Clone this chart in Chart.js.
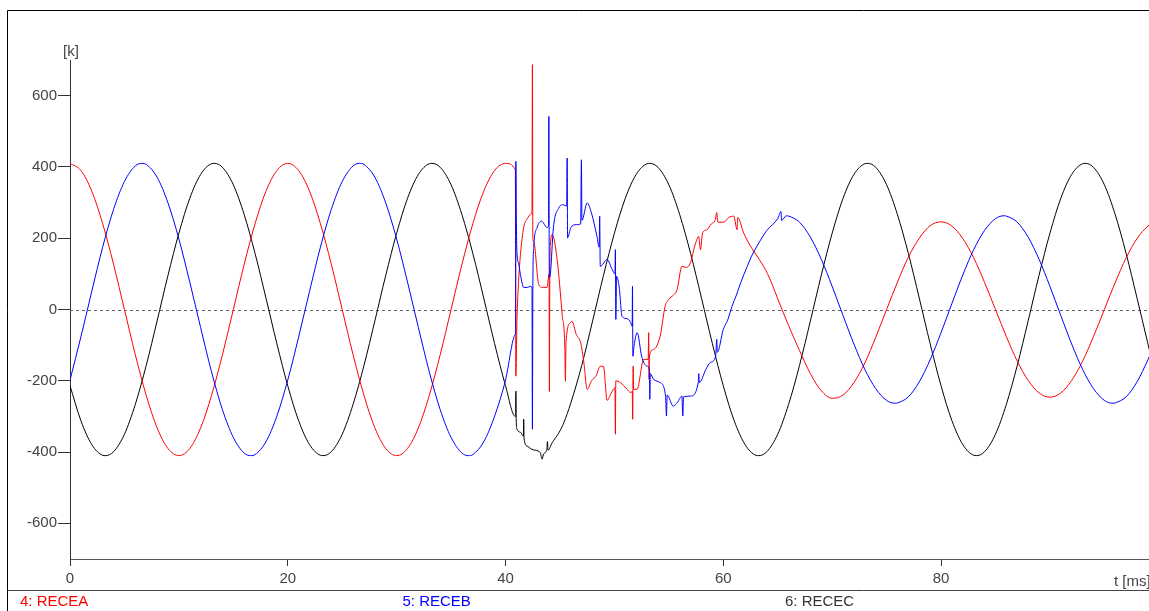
<!DOCTYPE html>
<html>
<head>
<meta charset="utf-8">
<script src="https://cdn.jsdelivr.net/npm/chart.js@4.4.1/dist/chart.umd.min.js"></script>
<style>
  body { margin: 0; background: #fff; }
  canvas { display: block; }
</style>
</head>
<body>
<canvas id="mychart" width="1149" height="611"></canvas>
<script>
// time in ms, values in k
const seriesNames = ['4: RECEA', '5: RECEB', '6: RECEC'];
const xTicks = [0, 20, 40, 60, 80];
const yTicks = [-600, -400, -200, 0, 200, 400, 600];

const redT = [0,1,2,3,4,5,6,7,8,9,10,11,12,13,14,15,16,17,18,19,20,21,22,23,24,25,26,27,28,29,30,31,32,33,34,35,36,37,38,39,40,
  40.9,40.95,41.05,41.2,41.37,41.67,42.0,42.29,42.43,42.47,
  42.51,42.59,43.05,43.4,43.82,44.0,44.03,44.07,44.12,44.28,
  44.74,45.2,45.45,45.5,45.56,45.96,46.1,46.5,46.9,47.2,
  47.5,47.9,48.3,48.71,49.0,49.33,49.7,50.05,50.09,50.13,
  50.55,51.17,51.5,51.64,51.68,51.72,51.76,52.08,52.69,53.1,
  53.15,53.18,53.22,53.6,54.2,54.66,54.98,55.4,55.76,56.2,
  56.6,56.98,57.4,57.74,57.9,58.1,58.5,58.9,59.27,59.4,
  59.5,60.04,60.5,60.96,61.27,61.32,61.87,62.49,63.1,63.9,
  64.5,65,
  66,67,68,69,70,71,72,73,74,75,76,77,78,79,80,81,82,83,84,85,86,87,88,89,90,91,92,93,94,95,96,97,98,99,99.3];
const redV = [410,390,332,241,127,0,-127,-241,-332,-390,-410,-390,-332,-241,-127,0,127,241,332,390,
  410,390,332,241,127,0,-127,-241,-332,-390,-410,-390,-332,-241,-127,0,127,241,332,390,410,
  392,-187,-33,79,154,230,255,266,280,687,
  200,190,70,62,62,100,-230,110,180,210,
  140,-14,-110,-201,-90,-37,-33,-70,-93,-150,
  -224,-200,-187,-159,-160,-255,-235,-220,-350,-200,
  -205,-224,-233,-230,-308,-159,-224,-224,-140,-140,
  -65,-196,-130,-112,-75,9,28,40,56,121,
  118,131,180,205,168,215,224,240,252,272,
  245,245,258,262,224,258,215,178,150,110,
  70,30,
  -45,-115,-180,-228,-249,-240,-205,-150,-78,0,77,147,200,235,246,234,199,145,76,0,
  -76,-145,-199,-234,-246,-234,-199,-145,-76,0,76,145,199,234,240];

const blueT = [0,1,2,3,4,5,6,6.6,7,8,9,10,11,12,13,14,15,16,16.6,17,18,19,
  20,21,22,23,24,25,26,26.6,27,28,29,30,31,32,33,34,35,36,36.6,37,38,39,40,
  40.9,40.93,40.95,40.99,41.05,41.2,41.37,41.67,42.0,42.29,
  42.43,42.47,42.51,42.59,42.9,43.3,43.82,43.95,43.98,44.02,
  44.12,44.4,44.9,45.3,45.62,45.66,45.7,46.0,46.5,46.9,
  46.97,47.02,47.5,47.9,48.4,48.6,48.65,48.7,49.33,49.8,
  50.05,50.09,50.13,50.2,50.45,50.7,51.2,51.5,51.63,51.66,
  51.7,51.8,52.1,52.5,53.0,53.22,53.25,53.3,53.6,54.2,
  54.7,54.78,54.85,55.4,55.8,56.2,56.28,56.35,57.0,57.7,
  57.75,57.8,58.4,58.8,59.3,59.4,59.45,60.0,60.4,60.8,
  61.2,61.6,62.2,62.6,63.1,64,65,65.3,65.35,65.8,
  66,67,68,69,70,71,72,73,74,75,75.8,76,77,78,79,80,81,82,83,84,85,85.8,
  86,87,88,89,90,91,92,93,94,95,95.8,96,97,98,99,99.3];
const blueV = [-198,-77,51,175,281,359,403,410,407,371,299,198,77,-51,-175,-281,-359,-403,-410,-407,-371,-299,
  -198,-77,51,175,281,359,403,410,407,371,299,198,77,-51,-175,-281,-359,-403,-410,-407,-371,-299,-198,
  -70,-60,416,260,160,130,98,62,62,65,
  60,-336,60,174,230,248,230,235,542,90,
  100,230,285,294,290,425,201,230,238,240,
  420,250,299,270,205,175,262,121,140,112,
  100,168,-28,93,60,-19,-26,-37,-47,65,
  -131,-103,-65,-131,-159,-170,-252,-180,-196,-205,
  -243,-299,-240,-271,-260,-243,-299,-245,-243,-205,
  -180,-205,-168,-149,-131,-84,-120,-56,-30,9,
  40,75,121,150,178,222,255,275,250,263,
  262,245,203,141,65,-17,-97,-168,-222,-255,-263,-262,-245,-203,-141,-65,17,97,168,222,255,263,
  262,245,203,141,65,-17,-97,-168,-222,-255,-263,-262,-245,-203,-141,-120];

const blackT = [0,1,2,3,3.25,4,5,6,7,8,9,10,11,12,13,13.25,14,15,16,17,18,19,
  20,21,22,23,23.25,24,25,26,27,28,29,30,31,32,33,33.25,34,35,36,37,38,39,40,
  40.9,40.93,40.95,40.98,41.06,41.4,41.64,41.67,41.7,41.98,
  42.4,42.75,43.2,43.36,43.5,43.8,43.85,43.9,44.28,44.9,
  45.35,46,
  47,48,49,50,51,52,53,53.25,54,55,56,57,58,59,60,61,62,63,63.25,64,65,66,67,68,69,70,71,72,73,73.25,
  74,75,76,77,78,79,80,81,82,83,83.25,84,85,86,87,88,89,90,91,92,93,93.25,94,95,96,97,98,99,99.3];
const blackV = [-214,-312,-379,-409,-410,-399,-350,-266,-157,-32,96,214,312,379,409,410,399,350,266,157,32,-96,
  -214,-312,-379,-409,-410,-399,-350,-266,-157,-32,96,214,312,379,409,410,399,350,266,157,32,-96,-214,
  -300,-300,-229,-308,-336,-345,-355,-308,-360,-383,
  -392,-395,-402,-420,-405,-392,-370,-395,-374,-346,
  -318,-262,
  -157,-32,96,214,312,379,409,410,399,350,266,157,32,-96,-214,-312,-379,-409,-410,-399,-350,-266,-157,-32,96,214,312,379,409,410,
  399,350,266,157,32,-96,-214,-312,-379,-409,-410,-399,-350,-266,-157,-32,96,214,312,379,409,410,399,350,266,157,32,-96,-135];

function pts(t, v) {
  if (t.length !== v.length) throw new Error('length mismatch ' + t.length + ' vs ' + v.length);
  return t.map((x, i) => ({ x: x, y: v[i] }));
}

const font = "'Liberation Sans', Arial, sans-serif";
Chart.defaults.font.family = font;
Chart.defaults.font.size = 15;

const framePlugin = {
  id: 'frame',
  beforeDatasetsDraw(chart) {
    const { ctx, chartArea: a, scales: { y } } = chart;
    const y0 = Math.round(y.getPixelForValue(0)) + 0.5;
    ctx.save();
    ctx.strokeStyle = '#666';
    ctx.lineWidth = 1;
    ctx.setLineDash([3, 3]);
    ctx.beginPath();
    ctx.moveTo(a.left, y0);
    ctx.lineTo(a.right, y0);
    ctx.stroke();
    ctx.restore();
  },
  afterDraw(chart) {
    const { ctx, width } = chart;
    ctx.save();
    ctx.strokeStyle = '#000';
    ctx.lineWidth = 1;
    ctx.beginPath();
    ctx.moveTo(7.5, 611);
    ctx.lineTo(7.5, 10.5);
    ctx.lineTo(width, 10.5);
    ctx.stroke();
    ctx.strokeStyle = '#444';
    ctx.beginPath();
    ctx.moveTo(7.5, 590.5);
    ctx.lineTo(width, 590.5);
    ctx.stroke();

    ctx.font = '15px ' + font;
    ctx.fillStyle = '#444';
    ctx.textBaseline = 'alphabetic';
    ctx.textAlign = 'center';
    ctx.fillText('[k]', 71, 56);
    ctx.textAlign = 'left';
    ctx.fillText('t [ms]', 1114, 586);

    chart.data.datasets.forEach((ds, i) => {
      ctx.fillStyle = ds.borderColor === '#000000' ? '#333' : ds.borderColor;
      ctx.fillText(ds.label, 20 + i * 382.5, 606);
    });
    ctx.restore();
  }
};

const ctx = document.getElementById('mychart').getContext('2d');

const mychart = new Chart(ctx, {
  type: 'line',
  data: {
    datasets: [
      { label: seriesNames[0], data: pts(redT, redV), borderColor: '#ff0000', order: 2 },
      { label: seriesNames[1], data: pts(blueT, blueV), borderColor: '#0000ff', order: 1 },
      { label: seriesNames[2], data: pts(blackT, blackV), borderColor: '#000000', order: 3 }
    ]
  },
  options: {
    responsive: false,
    animation: false,
    devicePixelRatio: 1,
    events: [],
    elements: {
      line: { borderWidth: 1, cubicInterpolationMode: 'monotone', fill: false },
      point: { radius: 0 }
    },
    layout: { padding: { top: 60, left: 0, right: 0, bottom: 0 } },
    plugins: {
      legend: { display: false },
      tooltip: { enabled: false }
    },
    scales: {
      x: {
        type: 'linear',
        min: 0,
        max: 99.1,
        afterBuildTicks: s => { s.ticks = xTicks.map(v => ({ value: v })); },
        afterFit: s => { s.height = 52; },
        grid: { drawOnChartArea: false, tickLength: 7, tickColor: '#333' },
        border: { color: '#555' },
        ticks: { color: '#444', padding: 4, maxRotation: 0 }
      },
      y: {
        min: -700,
        max: 700,
        afterBuildTicks: s => { s.ticks = yTicks.map(v => ({ value: v })); },
        afterFit: s => { s.width = 70; },
        grid: { drawOnChartArea: false, tickLength: 12, tickColor: '#333' },
        border: { color: '#333' },
        ticks: { color: '#444', padding: 1 }
      }
    }
  },
  plugins: [framePlugin]
});
</script>
</body>
</html>
